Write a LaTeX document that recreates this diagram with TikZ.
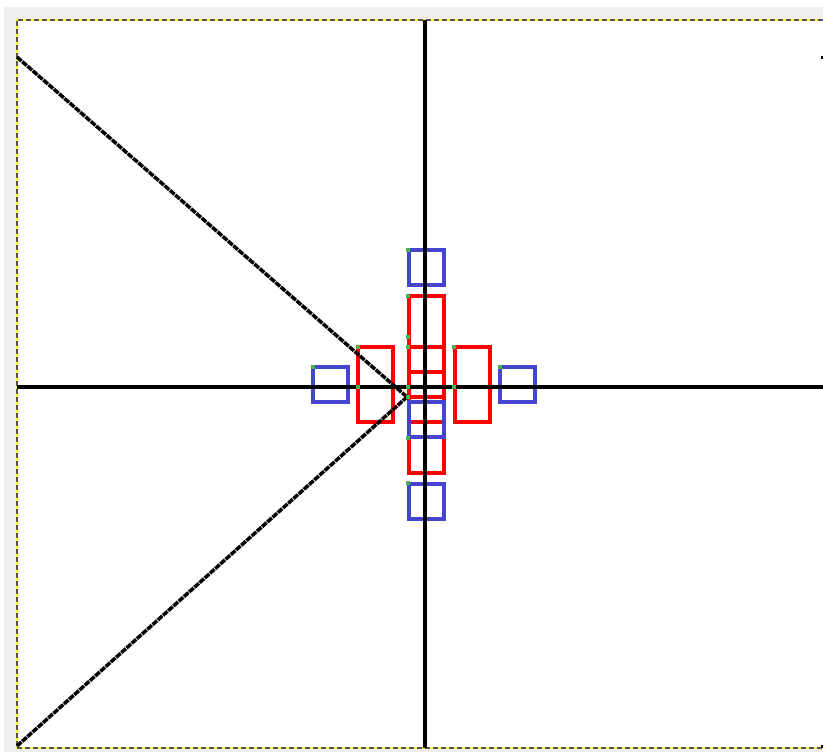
\documentclass[tikz,border=0pt]{standalone}
\begin{document}
\begin{tikzpicture}[x=1pt,y=-1pt,
  redbox/.style={draw=red,line width=4pt},
  bluebox/.style={draw=bluesq,line width=4pt},
  axisline/.style={draw=black,line width=4pt},
  diagline/.style={draw=black,line width=3.5pt,dash pattern=on 6pt off 1pt},
  gdot/.style={fill=greendot}]
\definecolor{bluesq}{RGB}{68,68,204}
\definecolor{greendot}{RGB}{76,175,80}
\definecolor{paneGray}{RGB}{240,239,237}
\definecolor{borderGray}{RGB}{85,85,85}
\definecolor{borderYellow}{RGB}{255,255,40}
\useasboundingbox (0,0) rectangle (823,753);
\fill[white] (0,0) rectangle (823,753);
\fill[paneGray] (4,7) rectangle (823,752);
\fill[white] (16.5,19.5) rectangle (823,748.3);
% canvas border
\draw[borderYellow,line width=2pt] (823,19.5) -- (16.5,19.5) -- (16.5,748.3) -- (823,748.3);
\draw[borderGray,line width=2pt,dash pattern=on 5pt off 3pt] (823,19.5) -- (16.5,19.5) -- (16.5,748.3) -- (823,748.3);
% red rectangles
\draw[redbox] (358,346.5) rectangle (393,422);
\draw[redbox] (454.5,346.5) rectangle (490,422);
\draw[redbox] (409,296) rectangle (444,372);
\draw[redbox] (409,346.5) rectangle (444,422);
\draw[redbox] (409,397) rectangle (444,473);
% blue squares
\draw[bluebox] (409,250) rectangle (444,285);
\draw[bluebox] (313,367) rectangle (348,402);
\draw[bluebox] (500,367) rectangle (535,402);
\draw[bluebox] (409,402) rectangle (444,437);
\draw[bluebox] (409,484) rectangle (444,519);
% diagonals
\coordinate (tl) at (17,57);
\coordinate (bl) at (17,746);
\coordinate (apex) at (407,397);
\draw[diagline] (tl) -- (apex);
\draw[diagline] (bl) -- (apex);
% axes
\coordinate (hl) at (16.5,387);
\coordinate (hr) at (823,387);
\coordinate (vt) at (424.5,19.5);
\coordinate (vb) at (424.5,748.3);
\draw[axisline] (hl) -- (hr);
\draw[axisline] (vt) -- (vb);
% marks at right edge
\fill[black] (820.5,55.5) rectangle (823,59);
\fill[black] (820.5,744.5) rectangle (823,748);
% green anchor dots
\foreach \x/\y in {408.3/250,408.3/295.5,408.3/336.7,408.3/346.7,408.3/386.7,408.3/396.7,408.3/438.3,408.3/483.3,358.3/346.7,358.3/386.7,454/346.7,454/386.7,312.7/366.7,500/366.7}
  \fill[greendot] (\x-2,\y-2) rectangle (\x+2,\y+2);
\end{tikzpicture}
\end{document}
